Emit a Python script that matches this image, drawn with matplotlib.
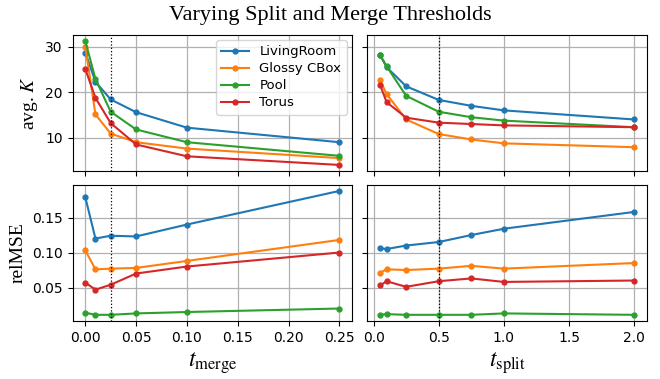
import matplotlib
matplotlib.use("Agg")
import matplotlib.pyplot as plt

t_merge = [0.0, 0.01, 0.025, 0.05, 0.1, 0.25]
t_split = [0.05, 0.1, 0.25, 0.5, 0.75, 1.0, 2.0]
scenes = ["LivingRoom", "Glossy CBox", "Pool", "Torus"]
colors = ["#1f77b4", "#ff7f0e", "#2ca02c", "#d62728"]

# avg. K vs t_merge
k_merge = [
    [28.7, 22.3, 18.4, 15.6, 12.2, 9.0],
    [30.0, 15.1, 10.9, 9.0, 7.6, 5.5],
    [31.25, 22.9, 15.7, 11.8, 9.0, 6.0],
    [25.1, 18.75, 13.2, 8.5, 5.9, 4.0],
]
# avg. K vs t_split
k_split = [
    [28.2, 25.5, 21.3, 18.3, 17.0, 16.0, 14.0],
    [22.6, 19.6, 14.0, 10.8, 9.6, 8.75, 7.9],
    [28.2, 25.7, 19.2, 15.7, 14.5, 13.75, 12.3],
    [21.6, 17.8, 14.4, 13.3, 13.0, 12.7, 12.3],
]
# relMSE vs t_merge
mse_merge = [
    [0.179, 0.120, 0.124, 0.123, 0.140, 0.188],
    [0.103, 0.076, 0.077, 0.078, 0.088, 0.118],
    [0.014, 0.011, 0.011, 0.013, 0.015, 0.020],
    [0.057, 0.047, 0.054, 0.070, 0.080, 0.100],
]
# relMSE vs t_split
mse_split = [
    [0.106, 0.105, 0.110, 0.115, 0.125, 0.134, 0.158],
    [0.071, 0.076, 0.075, 0.077, 0.081, 0.077, 0.085],
    [0.011, 0.012, 0.011, 0.011, 0.011, 0.013, 0.011],
    [0.053, 0.059, 0.051, 0.059, 0.063, 0.058, 0.060],
]
merge_default = 0.025
split_default = 0.5

plt.rcParams["mathtext.fontset"] = "stix"
serif = "Liberation Serif"

fig, axs = plt.subplots(2, 2, figsize=(6.6, 3.79), dpi=100, sharex="col", sharey="row")
fig.subplots_adjust(left=0.11, right=0.98, top=0.908, bottom=0.153, wspace=0.055, hspace=0.1)

for ax, xs, data, vline in [
    (axs[0, 0], t_merge, k_merge, merge_default),
    (axs[0, 1], t_split, k_split, split_default),
    (axs[1, 0], t_merge, mse_merge, merge_default),
    (axs[1, 1], t_split, mse_split, split_default),
]:
    ax.grid(True, color="#b0b0b0", linewidth=0.9)
    ax.set_axisbelow(True)
    for name, c, ys in zip(scenes, colors, data):
        ax.plot(xs, ys, "-o", color=c, markersize=3.5, linewidth=1.5, label=name)
    ax.axvline(vline, color="black", linestyle=":", linewidth=0.9)
    ax.tick_params(labelsize=10)

axs[0, 0].legend(loc="upper right", fontsize=9.5, labelspacing=0.3,
                 borderaxespad=0.4, handlelength=2.1)
axs[0, 0].set_ylabel(r"avg. $K$", fontsize=14, family=serif)
axs[1, 0].set_ylabel("relMSE", fontsize=14, family=serif)
axs[1, 0].set_xlabel(r"$t_\mathrm{merge}$", fontsize=17)
axs[1, 1].set_xlabel(r"$t_\mathrm{split}$", fontsize=17)
axs[0, 0].set_yticks([10, 20, 30])
axs[1, 0].set_yticks([0.05, 0.10, 0.15])
axs[1, 0].set_xticks([0.0, 0.05, 0.10, 0.15, 0.20, 0.25])
axs[1, 1].set_xticks([0.0, 0.5, 1.0, 1.5, 2.0])

fig.suptitle("Varying Split and Merge Thresholds", fontsize=16, family=serif, y=0.985)

fig.savefig("out.png", dpi=100)
